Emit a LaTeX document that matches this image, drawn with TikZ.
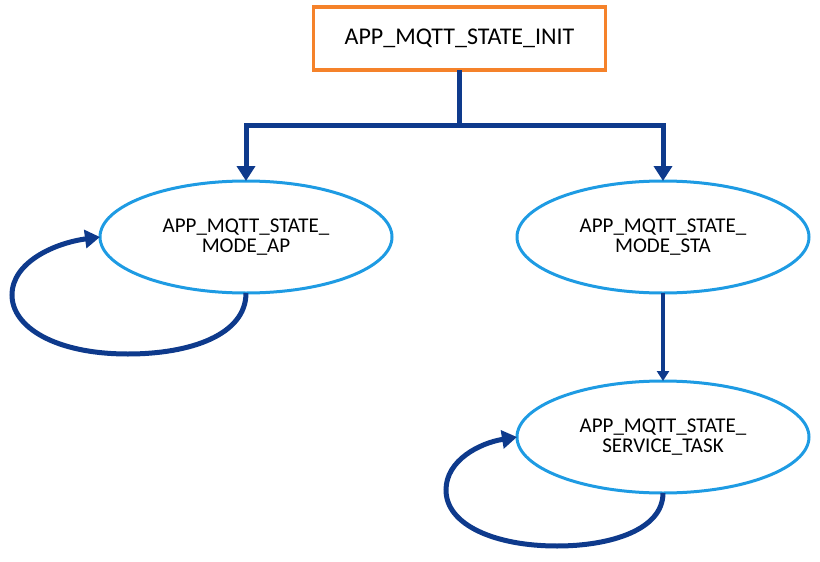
\documentclass[tikz,border=0pt]{standalone}
\usepackage{fontspec}
\setmainfont{Carlito}
\usetikzlibrary{shapes.geometric,arrows.meta}
\definecolor{orng}{HTML}{F5822A}
\definecolor{lblue}{HTML}{1E9BE3}
\definecolor{dblue}{HTML}{0E3A8C}
\begin{document}
\begin{tikzpicture}[x=1pt,y=-1pt,
  statebox/.style={draw=orng, line width=3.5pt, minimum width=292pt, minimum height=63pt,
    font=\fontsize{24}{28}\selectfont, inner sep=0pt, outer sep=0pt},
  stateell/.style={ellipse, draw=lblue, line width=3pt, minimum width=292pt, minimum height=112pt,
    align=center, font=\fontsize{21}{20}\selectfont, inner sep=0pt, outer sep=0pt},
  flowline/.style={draw=dblue, line width=5pt},
  flow/.style={draw=dblue, line width=5pt, -{Triangle[length=15pt,width=18pt]}},
  thinflow/.style={draw=dblue, line width=3.5pt, -{Triangle[length=10pt,width=12pt]}}]
\useasboundingbox (0,0) rectangle (820,562);
\node[statebox] (init) at (459.5,38.5) {APP\_MQTT\_STATE\_INIT};
\node[stateell] (ap) at (246,237) {APP\_MQTT\_STATE\_\\MODE\_AP};
\node[stateell] (sta) at (663,237) {APP\_MQTT\_STATE\_\\MODE\_STA};
\node[stateell] (svc) at (663,437) {APP\_MQTT\_STATE\_\\SERVICE\_TASK};
\coordinate (j) at (459.5,125);
\draw[flowline] (init.south) -- (j);
\draw[flow] (j) -| (ap.north);
\draw[flow] (j) -| (sta.north);
\draw[thinflow] (sta.south) -- (svc.north);
\draw[flow] (ap.south) .. controls (246,335) and (190,354) .. (128,354)
  .. controls (55,354) and (12,327) .. (12,295)
  .. controls (12,262) and (55,243) .. (ap.west);
\draw[flow] (svc.south) .. controls (663,530) and (610,546) .. (557,546)
  .. controls (495,546) and (446,525) .. (446,490)
  .. controls (446,460) and (480,443) .. (svc.west);
\end{tikzpicture}
\end{document}
